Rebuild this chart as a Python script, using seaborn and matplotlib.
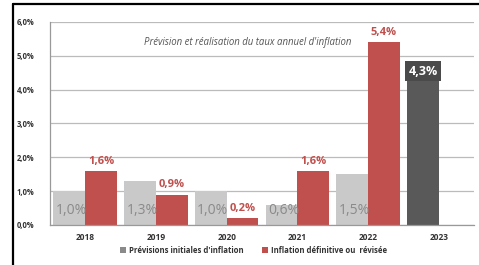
import pandas as pd
import matplotlib.pyplot as plt
import seaborn as sns
from matplotlib.lines import Line2D

sns.set_style("white")
plt.rcParams['font.family'] = ['Open Sans', 'DejaVu Sans']

# Data
years = ['2018', '2019', '2020', '2021', '2022', '2023']
forecast = [1.0, 1.3, 1.0, 0.6, 1.5, 4.3]
actual = [1.6, 0.9, 0.2, 1.6, 5.4]
series_names = ["Prévisions initiales d'inflation", "Inflation définitive ou  révisée"]
ytick_labels = ['0,0%', '1,0%', '2,0%', '3,0%', '4,0%', '5,0%', '6,0%']

rows = [(y, series_names[0], v) for y, v in zip(years, forecast)]
rows += [(y, series_names[1], v) for y, v in zip(years, actual)]
df = pd.DataFrame(rows, columns=['Année', 'Série', 'Taux'])

grey = '#c9c9c9'
red = '#c0504d'
dark = '#595959'

fig = plt.figure(figsize=(4.79, 2.65), dpi=100)
ax = fig.add_axes([0.104, 0.151, 0.886, 0.766])

sns.barplot(data=df, x='Année', y='Taux', hue='Série', order=years,
            hue_order=series_names, palette=[grey, red], width=0.9,
            saturation=1, linewidth=0, ax=ax)

ax.set_ylim(0, 6)
ax.set_yticks(range(7))
ax.set_yticklabels(ytick_labels, fontsize=5.5, fontweight='bold', color='#333333')
ax.tick_params(axis='x', labelsize=6, length=0, pad=6)
for t in ax.get_xticklabels():
    t.set_fontweight('bold')
    t.set_color('#333333')
ax.tick_params(axis='y', length=3, color='#999999', pad=8)
ax.set_xlabel('')
ax.set_ylabel('')
ax.grid(axis='y', color='#bbbbbb', linewidth=0.9)
ax.set_axisbelow(True)
for s in ['top', 'right']:
    ax.spines[s].set_visible(False)
for s in ['left', 'bottom']:
    ax.spines[s].set_color('#999999')
    ax.spines[s].set_linewidth(0.9)
ax.set_xlim(-0.5, len(years) - 0.5)
# minor ticks between categories
ax.set_xticks([i + 0.5 for i in range(-1, len(years))], minor=True)
ax.tick_params(axis='x', which='minor', length=3, color='#999999')

# labels for forecast bars (inside, near bottom)
fc_bars = ax.containers[0]
for i, bar in enumerate(fc_bars):
    cx = bar.get_x() + bar.get_width() / 2
    txt = f"{forecast[i]:.1f}%".replace('.', ',')
    if years[i] == '2023':
        bar.set_facecolor(dark)
        ax.text(cx, forecast[i] + 0.25, txt, ha='center', va='center',
                fontsize=9, fontweight='bold', color='white',
                bbox=dict(boxstyle='square,pad=0.3', fc='#4a4a4a', ec='none'))
    else:
        ax.text(cx + 0.03, 0.44, txt, ha='center', va='center',
                fontsize=10, color='#8a8a8a')

# labels for actual bars (above)
for i, bar in enumerate(ax.containers[1]):
    cx = bar.get_x() + bar.get_width() / 2
    txt = f"{actual[i]:.1f}%".replace('.', ',')
    ax.text(cx, actual[i] + 0.12, txt, ha='center', va='bottom',
            fontsize=8, fontweight='bold', color=red)

ax.text(0.467, 0.90, "Prévision et réalisation du taux annuel d'inflation",
        transform=ax.transAxes, ha='center', va='center', fontsize=6.9,
        style='italic', color='#555555')

sns.move_legend(ax, 'center', bbox_to_anchor=(0.48, -0.125), ncol=2,
                frameon=False, title=None, fontsize=5.6, handlelength=0.8,
                handleheight=0.8, handletextpad=0.3, columnspacing=2.4)
leg = ax.get_legend()
for t in leg.get_texts():
    t.set_fontweight('bold')
    t.set_color('#333333')
leg.legend_handles[0].set_facecolor('#8a8a8a')

# outer frame (top and left edges)
fig.add_artist(Line2D([13 / 479, 1], [1 - 4 / 265, 1 - 4 / 265],
                      transform=fig.transFigure, color='black', linewidth=1.6))
fig.add_artist(Line2D([13 / 479, 13 / 479], [0, 1 - 4 / 265],
                      transform=fig.transFigure, color='black', linewidth=1.6))

fig.savefig('out.png', dpi=100)
